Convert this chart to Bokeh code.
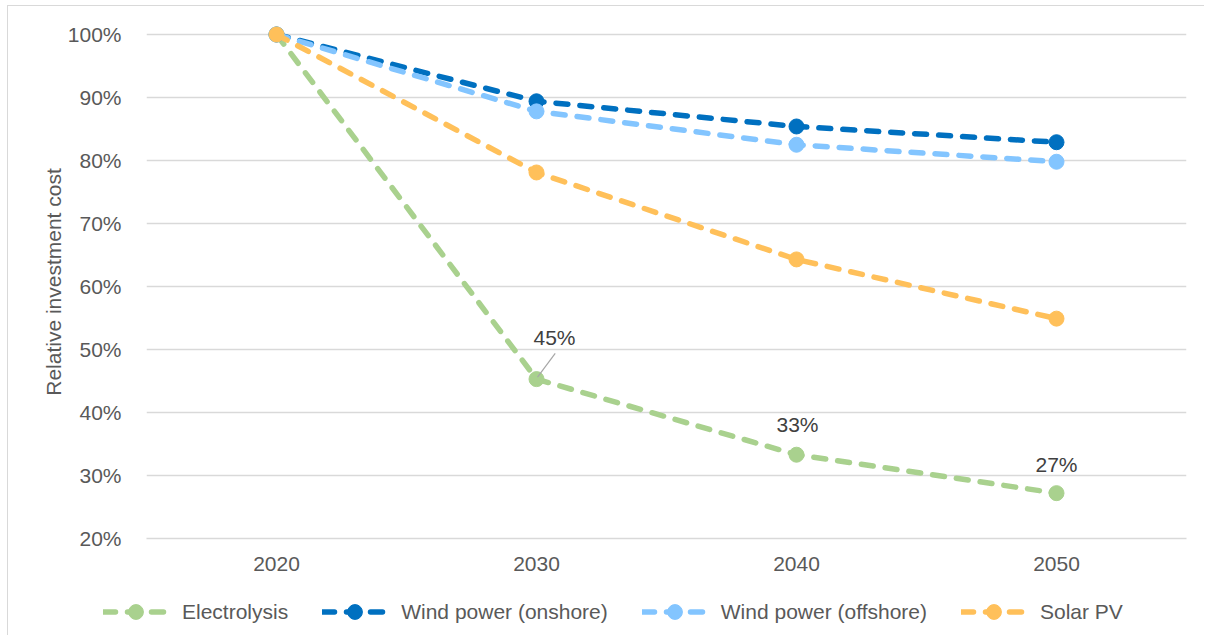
from bokeh.plotting import figure
from bokeh.layouts import column
from bokeh.models import (ColumnDataSource, FixedTicker, PrintfTickFormatter, Legend,
                          LegendItem, Range1d, FactorRange)
from bokeh.transform import dodge
from bokeh.core.properties import value
from bokeh.embed import file_html
from bokeh.resources import INLINE

# ---- data ----
years = ["2020", "2030", "2040", "2050"]
electrolysis = [100, 45.3, 33.3, 27.2]
wind_onshore = [100, 89.4, 85.4, 82.9]
wind_offshore = [100, 87.8, 82.5, 79.8]
solar_pv = [100, 78.1, 64.3, 54.9]
series_names = ["Electrolysis", "Wind power (onshore)", "Wind power (offshore)", "Solar PV"]
y_ticks = [20, 30, 40, 50, 60, 70, 80, 90, 100]
y_label = "Relative investment cost"

colors = ["#A9D18E", "#0070C0", "#83C5FF", "#FFC05A"]
FONT = "Liberation Sans"
TXT = "#595959"
LW, DASH, MSIZE = 5.5, "12 12", 15

p = figure(x_range=FactorRange(*years, range_padding=0), y_range=Range1d(20, 20 + 513 / 6.3),
           width=1196, height=575, output_backend="svg", toolbar_location=None,
           min_border_left=138, min_border_right=18, min_border_top=19, min_border_bottom=43)
p.frame_align = False
p.outline_line_color = None
p.background_fill_color = "white"
p.border_fill_color = "white"

# grid
p.xgrid.grid_line_color = None
p.ygrid.grid_line_color = "#D9D9D9"
p.ygrid.grid_line_width = 1.3
p.ygrid.ticker = FixedTicker(ticks=y_ticks)

# axes
p.yaxis.ticker = FixedTicker(ticks=y_ticks)
p.yaxis.formatter = PrintfTickFormatter(format="%d%%")
p.yaxis.axis_line_color = None
p.yaxis.major_tick_line_color = None
p.yaxis.minor_tick_line_color = None
p.yaxis.major_label_standoff = 19
p.yaxis.axis_label = y_label
p.yaxis.axis_label_standoff = 0
p.yaxis.axis_label_text_font = FONT
p.yaxis.axis_label_text_font_style = "normal"
p.yaxis.axis_label_text_font_size = "21px"
p.yaxis.axis_label_text_color = TXT

p.xaxis.axis_line_color = "#D9D9D9"
p.xaxis.axis_line_width = 1.3
p.xaxis.major_tick_line_color = None
p.xaxis.minor_tick_line_color = None
p.xaxis.major_label_standoff = 12
for ax in (p.xaxis, p.yaxis):
    ax.major_label_text_font = FONT
    ax.major_label_text_font_size = "21px"
    ax.major_label_text_color = TXT

# series
all_series = [electrolysis, wind_onshore, wind_offshore, solar_pv]
for name, vals, col in zip(series_names, all_series, colors):
    src = ColumnDataSource(dict(x=years, y=vals))
    p.line("x", "y", source=src, line_color=col, line_width=LW, line_dash=DASH,
           line_cap="round")
    p.scatter("x", "y", source=src, size=MSIZE, fill_color=col, line_color=col)

# data labels for electrolysis
lab_src = ColumnDataSource(dict(
    x=years[1:], y=electrolysis[1:],
    text=[f"{round(v)}%" for v in electrolysis[1:]],
    xo=[18, 1, 0], yo=[-42, -30, -29],
))
p.text("x", "y", text="text", source=lab_src, x_offset="xo", y_offset="yo",
       text_align="center", text_baseline="middle", text_font=value(FONT),
       text_font_size="21px", text_color="#404040")

# leader line for the 45% label
lead_src = ColumnDataSource(dict(x=[years[1]], y0=[electrolysis[1] + 4.1], y1=[electrolysis[1] + 0.3]))
p.segment(x0=dodge("x", 0.072, range=p.x_range), y0="y0",
          x1=dodge("x", 0.004, range=p.x_range), y1="y1",
          source=lead_src, line_color="#A6A6A6", line_width=1.2)

# ---- legend strip (separate figure below the chart) ----
lg = figure(width=1196, height=54, output_backend="svg", toolbar_location=None,
            x_range=Range1d(0, 1), y_range=Range1d(0, 1),
            min_border_left=0, min_border_right=0, min_border_top=0, min_border_bottom=0,
            x_axis_type=None, y_axis_type=None)
lg.frame_align = False
lg.outline_line_color = None
lg.xgrid.grid_line_color = None
lg.ygrid.grid_line_color = None
lg.border_fill_color = "white"
items = []
for name, col in zip(series_names, colors):
    hidden = ColumnDataSource(dict(x=[float("nan")], y=[float("nan")]))
    ln = lg.line("x", "y", source=hidden, line_color=col, line_width=LW, line_dash=DASH,
                 line_cap="round")
    sc = lg.scatter("x", "y", source=hidden, size=MSIZE, fill_color=col, line_color=col)
    items.append(LegendItem(label=name, renderers=[ln, sc]))

legend = Legend(items=items, orientation="horizontal", location=(95, 5),
                glyph_width=65, glyph_height=37, label_height=20, label_standoff=14,
                spacing=34, padding=0, margin=0, border_line_color=None,
                background_fill_alpha=0, label_text_font=FONT,
                label_text_font_size="21px", label_text_color=TXT)
lg.add_layout(legend, "center")

layout = column(p, lg, spacing=0)
layout.styles = {"border-left": "1px solid #D9D9D9", "border-top": "1px solid #D9D9D9",
                 "margin-left": "7px", "margin-top": "5px"}

open("out.html", "w").write(file_html(layout, INLINE))
